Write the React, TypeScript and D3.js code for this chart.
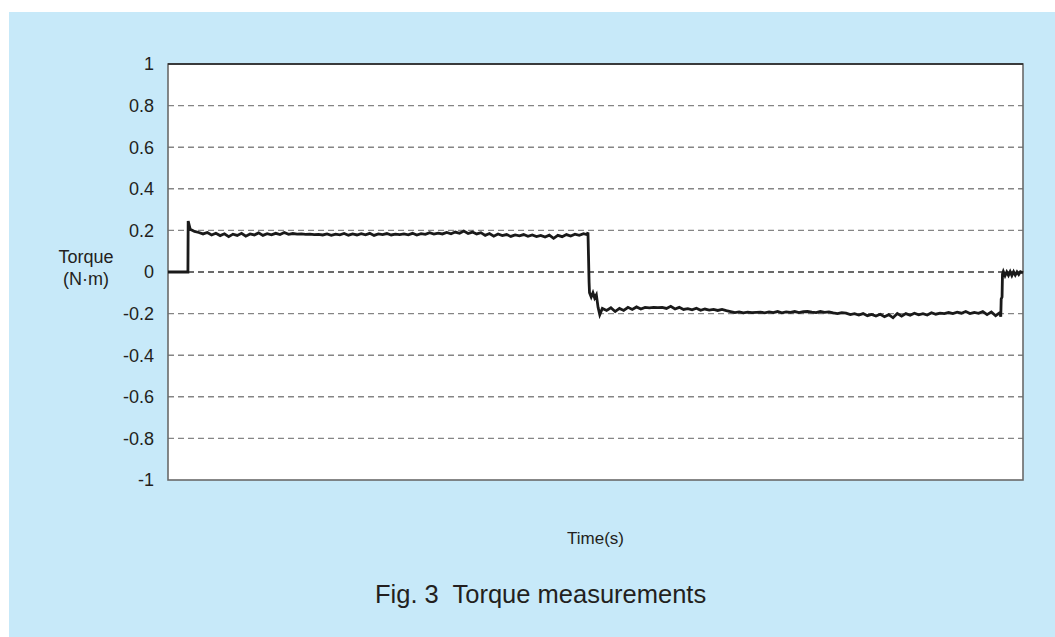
import React from "react";
import * as d3 from "d3";

// ---- data ----
const yTicks = [1, 0.8, 0.6, 0.4, 0.2, 0, -0.2, -0.4, -0.6, -0.8, -1];
const gridValues = [0.8, 0.6, 0.4, 0.2, 0, -0.2, -0.4, -0.6, -0.8];

const startTimes = [0, 2.33, 2.36];
const startTorque = [0, 0, 0.245];

const plateau1Start = 2.6;
const sampleStep = 0.5;
const plateau1Torque = [
  0.205, 0.195, 0.19, 0.183, 0.19, 0.178, 0.186, 0.175, 0.184, 0.17,
  0.182, 0.176, 0.186, 0.172, 0.183, 0.178, 0.188, 0.176, 0.184, 0.179,
  0.186, 0.18, 0.19, 0.181, 0.185, 0.182, 0.183, 0.181, 0.182, 0.18,
  0.181, 0.178, 0.183, 0.176, 0.182, 0.179, 0.185, 0.177, 0.183, 0.178,
  0.184, 0.179, 0.186, 0.176, 0.183, 0.18, 0.185, 0.178, 0.182, 0.18,
  0.183, 0.179, 0.186, 0.178, 0.184, 0.181, 0.189, 0.182, 0.187, 0.183,
  0.19, 0.184, 0.192, 0.186, 0.197, 0.185, 0.192, 0.183, 0.189, 0.176,
  0.185, 0.172, 0.183, 0.175, 0.18, 0.171, 0.178, 0.174, 0.18, 0.172,
  0.178, 0.17, 0.176, 0.168, 0.177, 0.162, 0.176, 0.17, 0.18, 0.173,
  0.182, 0.176, 0.184,
];

const dropTimes = [49.0, 49.12, 49.25, 49.3, 49.5, 49.7, 49.9, 50.1, 50.3, 50.5, 50.8];
const dropTorque = [0.18, 0.19, -0.05, -0.1, -0.12, -0.1, -0.125, -0.11, -0.17, -0.205, -0.175];

const plateau2Start = 51.3;
const plateau2Torque = [
  -0.185, -0.172, -0.19, -0.175, -0.185, -0.17, -0.18, -0.168, -0.178, -0.17,
  -0.172, -0.17, -0.171, -0.17, -0.175, -0.165, -0.178, -0.17, -0.18, -0.176,
  -0.182, -0.174, -0.184, -0.178, -0.183, -0.18, -0.185, -0.18, -0.186, -0.19,
  -0.195, -0.192, -0.196, -0.193, -0.195, -0.194, -0.193, -0.196, -0.192, -0.195,
  -0.19, -0.196, -0.192, -0.194, -0.19, -0.195, -0.191, -0.19, -0.193, -0.195,
  -0.19, -0.194, -0.192, -0.197, -0.2, -0.195, -0.198, -0.205, -0.2, -0.207,
  -0.2, -0.21, -0.204, -0.212, -0.203, -0.215, -0.205, -0.22, -0.2, -0.212,
  -0.2, -0.208, -0.198, -0.206, -0.2, -0.207, -0.196, -0.203, -0.198, -0.2,
  -0.195, -0.2, -0.193, -0.198, -0.19, -0.2, -0.194, -0.199, -0.19, -0.205,
  -0.192, -0.21, -0.195,
];

const endTimes = [97.4, 97.45, 97.55, 97.6, 97.7, 97.9, 98.1, 98.3, 98.5, 98.7, 98.9, 99.1, 99.3, 99.5, 99.7, 100];
const endTorque = [-0.215, -0.13, -0.12, -0.01, 0.002, -0.018, 0.0, -0.016, 0.002, -0.017, 0.001, -0.015, 0.0, -0.012, 0.001, -0.004];

type Pt = { t: number; v: number };

function buildSeries(): Pt[] {
  const pts: Pt[] = [];
  startTimes.forEach((t, i) => pts.push({ t, v: startTorque[i] }));
  plateau1Torque.forEach((v, i) => pts.push({ t: plateau1Start + i * sampleStep, v }));
  dropTimes.forEach((t, i) => pts.push({ t, v: dropTorque[i] }));
  plateau2Torque.forEach((v, i) => pts.push({ t: plateau2Start + i * sampleStep, v }));
  endTimes.forEach((t, i) => pts.push({ t, v: endTorque[i] }));
  return pts;
}

const W = 1055;
const H = 637;
const plot = { left: 168, right: 1023, top: 64, bottom: 480 };
const FONT = "'Liberation Sans', Arial, Helvetica, sans-serif";

export default function App() {
  const x = d3.scaleLinear().domain([0, 100]).range([plot.left, plot.right]);
  const y = d3.scaleLinear().domain([-1, 1]).range([plot.bottom, plot.top]);
  const series = buildSeries();
  const line = d3
    .line<Pt>()
    .x((d) => x(d.t))
    .y((d) => y(d.v));

  return (
    <svg
      width={W}
      height={H}
      style={{ position: "absolute", left: 0, top: 0, display: "block" }}
      fontFamily={FONT}
    >
      <rect x={0} y={0} width={W} height={H} fill="#ffffff" />
      <rect x={9} y={12} width={W - 9} height={H - 12} fill="#c7e9f9" />
      <rect
        x={plot.left}
        y={plot.top}
        width={plot.right - plot.left}
        height={plot.bottom - plot.top}
        fill="#ffffff"
      />
      {gridValues.map((g) => (
        <line
          key={g}
          x1={plot.left}
          x2={plot.right}
          y1={y(g)}
          y2={y(g)}
          stroke={g === 0 ? "#3a3a3a" : "#858585"}
          strokeWidth={1.4}
          strokeDasharray="6,4"
        />
      ))}
      <rect
        x={plot.left}
        y={plot.top}
        width={plot.right - plot.left}
        height={plot.bottom - plot.top}
        fill="none"
        stroke="#6a6a6a"
        strokeWidth={1.6}
      />
      <line x1={plot.left} x2={plot.right} y1={plot.top} y2={plot.top} stroke="#222" strokeWidth={1.6} />
      <path
        d={line(series) || ""}
        fill="none"
        stroke="#1a1a1a"
        strokeWidth={2.8}
        strokeLinejoin="miter"
      />
      {yTicks.map((t) => (
        <text
          key={t}
          x={154}
          y={y(t)}
          dy="0.35em"
          textAnchor="end"
          fontSize={18}
          fill="#231f20"
        >
          {String(t)}
        </text>
      ))}
      <text x={86} y={263} textAnchor="middle" fontSize={18} fill="#231f20">
        Torque
      </text>
      <text x={86} y={285} textAnchor="middle" fontSize={18} fill="#231f20">
        (N·m)
      </text>
      <text x={(plot.left + plot.right) / 2} y={544} textAnchor="middle" fontSize={17} fill="#231f20">
        Time(s)
      </text>
      <text x={375} y={603} textAnchor="start" fontSize={25.5} fill="#231f20" style={{ whiteSpace: "pre" }}>
        {"Fig. 3  Torque measurements"}
      </text>
    </svg>
  );
}
